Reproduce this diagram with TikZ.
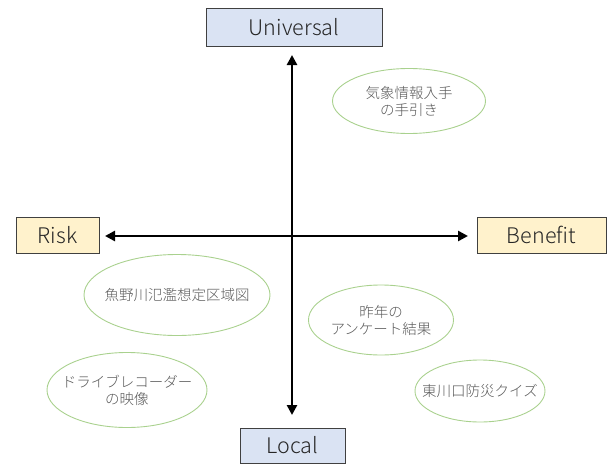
\documentclass[tikz,border=0pt]{standalone}
\usepackage{fontspec}
\setmainfont{Noto Sans CJK JP}[UprightFont=* Light]
\usetikzlibrary{arrows.meta,shapes.geometric}
\definecolor{boxblue}{HTML}{DAE3F3}
\definecolor{boxyellow}{HTML}{FFF2CC}
\definecolor{boxline}{HTML}{404040}
\definecolor{ellline}{HTML}{A9D18E}
\definecolor{elltext}{HTML}{595959}
\definecolor{labtext}{HTML}{262626}
\begin{document}
\begin{tikzpicture}[x=1pt,y=-1pt,
  axisbox/.style={draw=boxline,line width=0.8pt,inner sep=0pt,text=labtext,font=\fontsize{21.5}{24}\selectfont},
  item/.style={shape=ellipse,draw=ellline,line width=0.9pt,inner sep=0pt},
  itemtext/.style={text=elltext,align=center,inner sep=0pt,font=\fontsize{14.5}{17}\selectfont},
  axis/.style={line width=2.5pt,{Triangle[length=10pt,width=10pt]}-{Triangle[length=10pt,width=10pt]}}]
\useasboundingbox (0,0) rectangle (608,466);
\node[axisbox,fill=boxblue,minimum width=176pt,minimum height=38pt] (univ) at (294,27) {Universal};
\node[axisbox,fill=boxblue,minimum width=105pt,minimum height=35pt] (local) at (292.5,445.5) {Local};
\node[axisbox,fill=boxyellow,minimum width=83pt,minimum height=36pt] (risk) at (57.5,235) {Risk};
\node[axisbox,fill=boxyellow,minimum width=129pt,minimum height=36pt] (benefit) at (541.5,235) {Benefit};
\coordinate (vtop) at (292,55);
\coordinate (vbot) at (292,415);
\coordinate (hleft) at (105,236);
\coordinate (hright) at (468,236);
\draw[axis] (vtop) -- (vbot);
\draw[axis] (hleft) -- (hright);
\node[item,minimum width=153pt,minimum height=65pt,label={[itemtext]center:気象情報入手\\の手引き}] (kisho) at (409,101) {};
\node[item,minimum width=186pt,minimum height=81pt,label={[itemtext]center:魚野川氾濫想定区域図}] (uono) at (177,295) {};
\node[item,minimum width=145pt,minimum height=70pt,label={[itemtext]center:昨年の\\アンケート結果}] (sakunen) at (381,320) {};
\node[item,minimum width=160pt,minimum height=75pt,label={[itemtext]center:ドライブレコーダー\\の映像}] (drive) at (127,390) {};
\node[item,minimum width=130pt,minimum height=62pt,label={[itemtext]center:東川口防災クイズ}] (quiz) at (480,391) {};
\end{tikzpicture}
\end{document}
